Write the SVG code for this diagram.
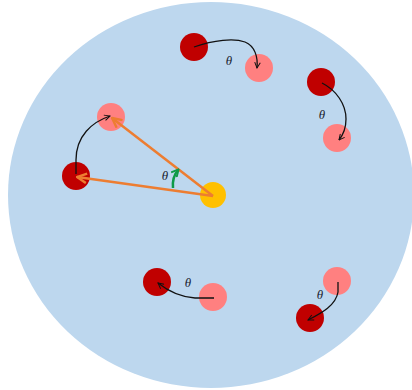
<svg xmlns="http://www.w3.org/2000/svg" width="412" height="390" viewBox="0 0 412 390">
<defs>
<style>
.bg{fill:#BDD7EE}
.dark{fill:#C00000}
.pink{fill:#FF8080}
.sun{fill:#FFC000}
.blk{fill:none;stroke:#111;stroke-width:1.3}
.org{fill:none;stroke:#ED7D31;stroke-width:2.5}
.grn{fill:none;stroke:#0E9A48;stroke-width:2.5}
.th{font-family:"Liberation Serif",serif;font-style:italic;font-size:13px;fill:#1A2230;text-anchor:middle}
</style>
<marker id="ab" viewBox="0 0 10 10" refX="9" refY="5" markerWidth="7" markerHeight="7" orient="auto" markerUnits="userSpaceOnUse">
<path d="M1,1 L9,5 L1,9" fill="none" stroke="#111" stroke-width="1.4"/>
</marker>
<marker id="ao" viewBox="0 0 10 10" refX="9" refY="5" markerWidth="12" markerHeight="12" orient="auto" markerUnits="userSpaceOnUse">
<path d="M1,1 L9,5 L1,9" fill="none" stroke="#ED7D31" stroke-width="2"/>
</marker>
<marker id="ag" viewBox="0 0 10 10" refX="8" refY="5" markerWidth="9" markerHeight="9" orient="auto" markerUnits="userSpaceOnUse">
<path d="M1,1 L9,5 L1,9" fill="none" stroke="#0E9A48" stroke-width="2.2"/>
</marker>
</defs>
<ellipse class="bg" cx="211" cy="195" rx="203" ry="193"/>
<g id="sun"><circle class="sun" cx="213" cy="195" r="13"/></g>
<g id="left-pink"><circle class="pink" cx="111" cy="117" r="14"/></g>
<g id="left-dark"><circle class="dark" cx="76" cy="176" r="14"/></g>
<g id="top-dark"><circle class="dark" cx="194" cy="47" r="14"/></g>
<g id="top-pink"><circle class="pink" cx="259" cy="68" r="14"/></g>
<g id="right-dark"><circle class="dark" cx="321" cy="82" r="14"/></g>
<g id="right-pink"><circle class="pink" cx="337" cy="138" r="14"/></g>
<g id="bl-dark"><circle class="dark" cx="157" cy="282" r="14"/></g>
<g id="bl-pink"><circle class="pink" cx="213" cy="297" r="14"/></g>
<g id="br-pink"><circle class="pink" cx="337" cy="281" r="14"/></g>
<g id="br-dark"><circle class="dark" cx="310" cy="318" r="14"/></g>
<g id="connectors">
<path class="org" d="M213,196 L77,177" marker-end="url(#ao)"/>
<path class="org" d="M213,196 L112,118" marker-end="url(#ao)"/>
<path class="grn" d="M173,188 Q172,177 178,170" marker-end="url(#ag)"/>
<path class="blk" d="M76,174 L76,160 C76,136 92,122 110,116" marker-end="url(#ab)"/>
<path class="blk" d="M194,47 C214,40 234,38 245,42 C255,46 258,57 257,68" marker-end="url(#ab)"/>
<path class="blk" d="M322,83 C336,90 346,104 346,119 C346,129 343,135 339,140" marker-end="url(#ab)"/>
<path class="blk" d="M214,298 L195,298 C181,297 168,291 158,283" marker-end="url(#ab)"/>
<path class="blk" d="M338,282 L338,292 C336,305 322,313 308,320" marker-end="url(#ab)"/>
</g>
<text class="th" x="165" y="180">θ</text>
<text class="th" x="229" y="65">θ</text>
<text class="th" x="322" y="119">θ</text>
<text class="th" x="188" y="287">θ</text>
<text class="th" x="320" y="299">θ</text>
</svg>
